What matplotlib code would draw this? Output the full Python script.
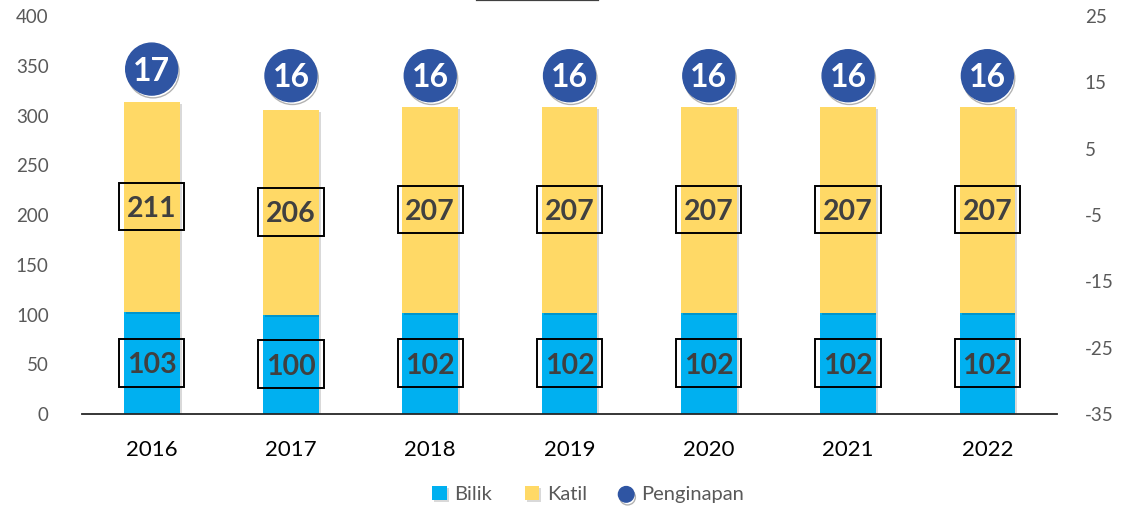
import matplotlib.pyplot as plt
import matplotlib.patheffects as pe
import matplotlib.transforms as mtrans
from matplotlib.patches import Rectangle
from matplotlib.lines import Line2D

years = ['2016', '2017', '2018', '2019', '2020', '2021', '2022']
bilik = [103, 100, 102, 102, 102, 102, 102]
katil = [211, 206, 207, 207, 207, 207, 207]
penginapan = [17, 16, 16, 16, 16, 16, 16]

c_bilik = '#00B0F0'
c_katil = '#FFD966'
c_ping = '#2F55A3'
c_text = '#595959'

plt.rcParams['font.family'] = ['Lato', 'DejaVu Sans']
plt.rcParams['axes.unicode_minus'] = False

fig = plt.figure(figsize=(11.27, 5.12), dpi=100)
ax = fig.add_axes([0.0728, 0.1914, 0.8651, 0.7773])
x = list(range(len(years)))

shadow = [pe.SimplePatchShadow(offset=(1.5, -1.5), shadow_rgbFace='#000000', alpha=0.15), pe.Normal()]
b1 = ax.bar(x, bilik, width=0.4, color=c_bilik, label='Bilik', zorder=2)
b2 = ax.bar(x, katil, width=0.4, bottom=bilik, color=c_katil, label='Katil', zorder=2)
for p in list(b1) + list(b2):
    p.set_path_effects(shadow)


def centred(axis, fs):
    # shift baseline down by half the cap height so digits sit in the middle
    return mtrans.offset_copy(axis.transData, fig=fig, y=-0.36 * fs, units='points')


# value labels in boxes
fs_lab = 20.5
for i in x:
    for yc, val in [(bilik[i] / 2, bilik[i]), (bilik[i] + katil[i] / 2, katil[i])]:
        ax.add_patch(Rectangle((i - 0.234, yc - 24), 0.468, 48, facecolor='none',
                               edgecolor='black', linewidth=1.4, zorder=4))
        ax.text(i, yc, str(val), ha='center', va='baseline', fontsize=fs_lab,
                fontweight='bold', color='#404040', transform=centred(ax, fs_lab), zorder=4)

ax.set_xlim(-0.5, len(years) - 0.5)
ax.set_ylim(0, 400)
ax.set_yticks(range(0, 401, 50))
ax.set_xticks(x)
ax.set_xticklabels(years, fontsize=16, color='#000000')
ax.tick_params(axis='y', length=0, labelsize=13.5, labelcolor=c_text, pad=24)
ax.tick_params(axis='x', length=0, pad=19)
for s in ['top', 'left', 'right']:
    ax.spines[s].set_visible(False)
ax.spines['bottom'].set_color('#262626')
ax.spines['bottom'].set_linewidth(1.3)

# penginapan on secondary axis
ax2 = ax.twinx()
ax2.set_ylim(-35, 25)
ax2.set_yticks(range(-35, 26, 10))
ax2.tick_params(axis='y', length=0, labelsize=13.5, labelcolor=c_text, pad=20)
for s in ax2.spines.values():
    s.set_visible(False)
sc = ax2.scatter(x, penginapan, s=1400, color=c_ping, label='Penginapan', zorder=3,
                 path_effects=[pe.SimpleLineShadow(offset=(1, -2), alpha=0.3), pe.Normal()])
fs_c = 23
for i in x:
    ax2.text(i, penginapan[i], str(penginapan[i]), ha='center', va='baseline', fontsize=fs_c,
             fontweight='bold', color='white', transform=centred(ax2, fs_c), zorder=5)

# leftover underline from a cropped title
fig.add_artist(Line2D([477 / 1127, 598 / 1127], [0.9995, 0.9995], color='#404040', lw=1.6))

handles = [b1, b2, sc]
leg = fig.legend(handles, ['Bilik', 'Katil', 'Penginapan'], loc='center', bbox_to_anchor=(0.522, 0.035),
                 ncol=3, frameon=False, fontsize=14.5, handlelength=0.7, handleheight=0.7,
                 handletextpad=0.4, columnspacing=1.6, markerscale=0.3)
for t in leg.get_texts():
    t.set_color(c_text)

fig.savefig('out.png', dpi=100)
